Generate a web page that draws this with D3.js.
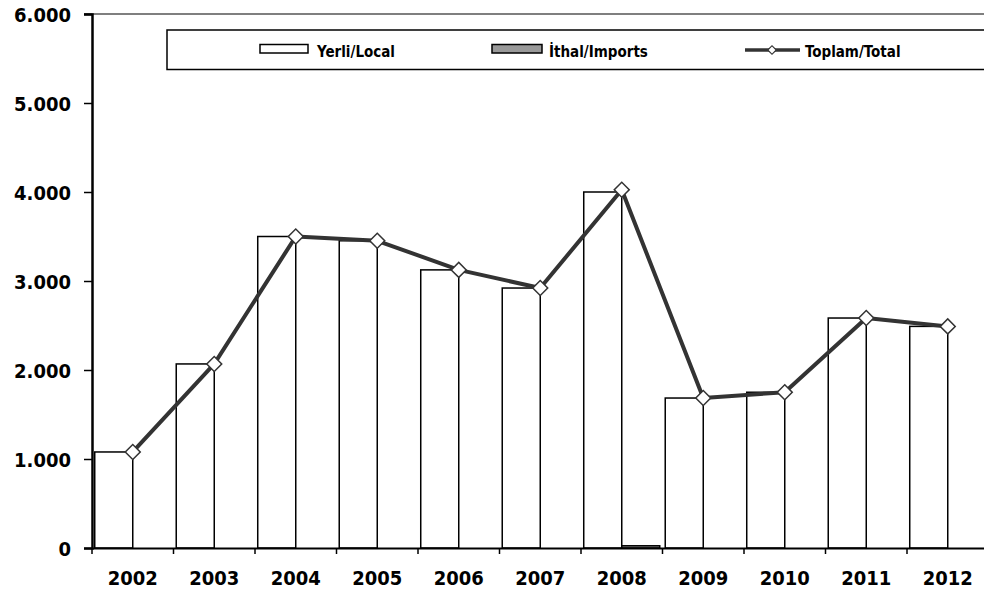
<!DOCTYPE html>
<html>
<head>
<meta charset="utf-8">
<script src="https://cdn.jsdelivr.net/npm/d3@7"></script>
<style>
  html, body { margin: 0; padding: 0; background: #fff; }
  svg { display: block; }
  text { font-family: "DejaVu Sans Condensed", "DejaVu Sans", sans-serif; font-stretch: condensed; font-weight: bold; fill: #000; }
</style>
</head>
<body>
<svg id="chart" width="984" height="592"></svg>
<script>
const years = ["2002","2003","2004","2005","2006","2007","2008","2009","2010","2011","2012"];
const yerli = [1079, 2068, 3500, 3452, 3125, 2921, 4000, 1685, 1750, 2584, 2490];
const imports = [0, 0, 0, 0, 0, 0, 25, 0, 0, 0, 0];
const total = [1079, 2068, 3500, 3452, 3125, 2921, 4025, 1685, 1750, 2584, 2490];
const yTicks = [0, 1000, 2000, 3000, 4000, 5000, 6000];
const legendLabels = ["Yerli/Local", "İthal/Imports", "Toplam/Total"];

const svg = d3.select("#chart");
const mLeft = 92, mTop = 14, mBottom = 548, mRight = 92 + 11 * 81.5;

const x = d3.scaleBand().domain(years).range([mLeft, mRight]).paddingInner(0).paddingOuter(0);
const xs = d3.scaleBand().domain(["yerli", "imports"]).range([0, x.bandwidth()]).paddingInner(0).paddingOuter(0.072);
const y = d3.scaleLinear().domain([0, 6000]).range([mBottom, mTop]);

const loc = d3.formatLocale({ decimal: ",", thousands: ".", grouping: [3], currency: ["", ""] });
const fmt = loc.format(",d");

// plot area top border
svg.append("line").attr("x1", 84).attr("x2", 984).attr("y1", y(6000)).attr("y2", y(6000))
  .attr("stroke", "#555").attr("stroke-width", 1.5);

// Yerli bars
svg.append("g").selectAll("rect").data(years).join("rect")
  .attr("x", (d) => x(d) + xs("yerli"))
  .attr("y", (d, i) => y(yerli[i]))
  .attr("width", xs.bandwidth())
  .attr("height", (d, i) => y(0) - y(yerli[i]))
  .attr("fill", "#fff").attr("stroke", "#000").attr("stroke-width", 1.5);

// Imports bars
svg.append("g").selectAll("rect").data(years.filter((d, i) => imports[i] > 0)).join("rect")
  .attr("x", (d) => x(d) + xs("imports"))
  .attr("y", (d) => y(imports[years.indexOf(d)]))
  .attr("width", xs.bandwidth())
  .attr("height", (d) => y(0) - y(imports[years.indexOf(d)]))
  .attr("fill", "#999").attr("stroke", "#000").attr("stroke-width", 1.5);

// Y axis
const yAxis = d3.axisLeft(y).tickValues(yTicks).tickSize(8).tickFormat(fmt);
const gy = svg.append("g").attr("transform", `translate(${mLeft},0)`).call(yAxis);
gy.select(".domain").attr("stroke", "#000").attr("stroke-width", 2.5);
gy.selectAll(".tick line").attr("stroke", "#000").attr("stroke-width", 1.5);
gy.selectAll(".tick text").attr("x", -21).attr("dy", "0.36em")
  .style("font-size", "20px").attr("font-family", null);

// X axis
const xAxis = d3.axisBottom(x).tickSize(0);
const gx = svg.append("g").attr("transform", `translate(0,${mBottom})`).call(xAxis);
gx.select(".domain").attr("stroke", "#000").attr("stroke-width", 2);
gx.selectAll(".tick text").attr("y", 37).attr("dy", 0)
  .style("font-size", "20px").attr("font-family", null);
// category boundary ticks
const bounds = years.map((d) => x(d)).concat([mRight]);
gx.append("g").selectAll("line").data(bounds).join("line")
  .attr("x1", (d) => d).attr("x2", (d) => d).attr("y1", 0).attr("y2", 6)
  .attr("stroke", "#000").attr("stroke-width", 1.5);

// Total line
const cx = (d) => x(d) + x.bandwidth() / 2;
const line = d3.line().x((d, i) => cx(years[i])).y((d) => y(d));
svg.append("path").datum(total).attr("d", line)
  .attr("fill", "none").attr("stroke", "#333").attr("stroke-width", 4).attr("stroke-linejoin", "round");

svg.append("g").selectAll("rect").data(total).join("rect")
  .attr("x", -5.3).attr("y", -5.3).attr("width", 10.6).attr("height", 10.6)
  .attr("transform", (d, i) => `translate(${cx(years[i])},${y(d)}) rotate(45)`)
  .attr("fill", "#fff").attr("stroke", "#333").attr("stroke-width", 1.5);

// Legend
const lg = svg.append("g");
lg.append("rect").attr("x", 167).attr("y", 30).attr("width", 840).attr("height", 39.5)
  .attr("fill", "#fff").attr("stroke", "#000").attr("stroke-width", 1.5);
lg.append("rect").attr("x", 260).attr("y", 44.5).attr("width", 48).attr("height", 8.5)
  .attr("fill", "#fff").attr("stroke", "#000").attr("stroke-width", 1.5);
lg.append("text").attr("x", 317).attr("y", 57).style("font-size", "15px").text(legendLabels[0]);
lg.append("rect").attr("x", 492).attr("y", 44.5).attr("width", 50).attr("height", 8.5)
  .attr("fill", "#999").attr("stroke", "#000").attr("stroke-width", 1.5);
lg.append("text").attr("x", 549).attr("y", 57).style("font-size", "15px").text(legendLabels[1]);
lg.append("line").attr("x1", 745).attr("x2", 800).attr("y1", 50).attr("y2", 50)
  .attr("stroke", "#333").attr("stroke-width", 3.5);
lg.append("rect").attr("x", -3).attr("y", -3).attr("width", 6).attr("height", 6)
  .attr("transform", "translate(772,50) rotate(45)")
  .attr("fill", "#fff").attr("stroke", "#333").attr("stroke-width", 1.2);
lg.append("text").attr("x", 805).attr("y", 57).style("font-size", "15px").text(legendLabels[2]);
</script>
</body>
</html>
